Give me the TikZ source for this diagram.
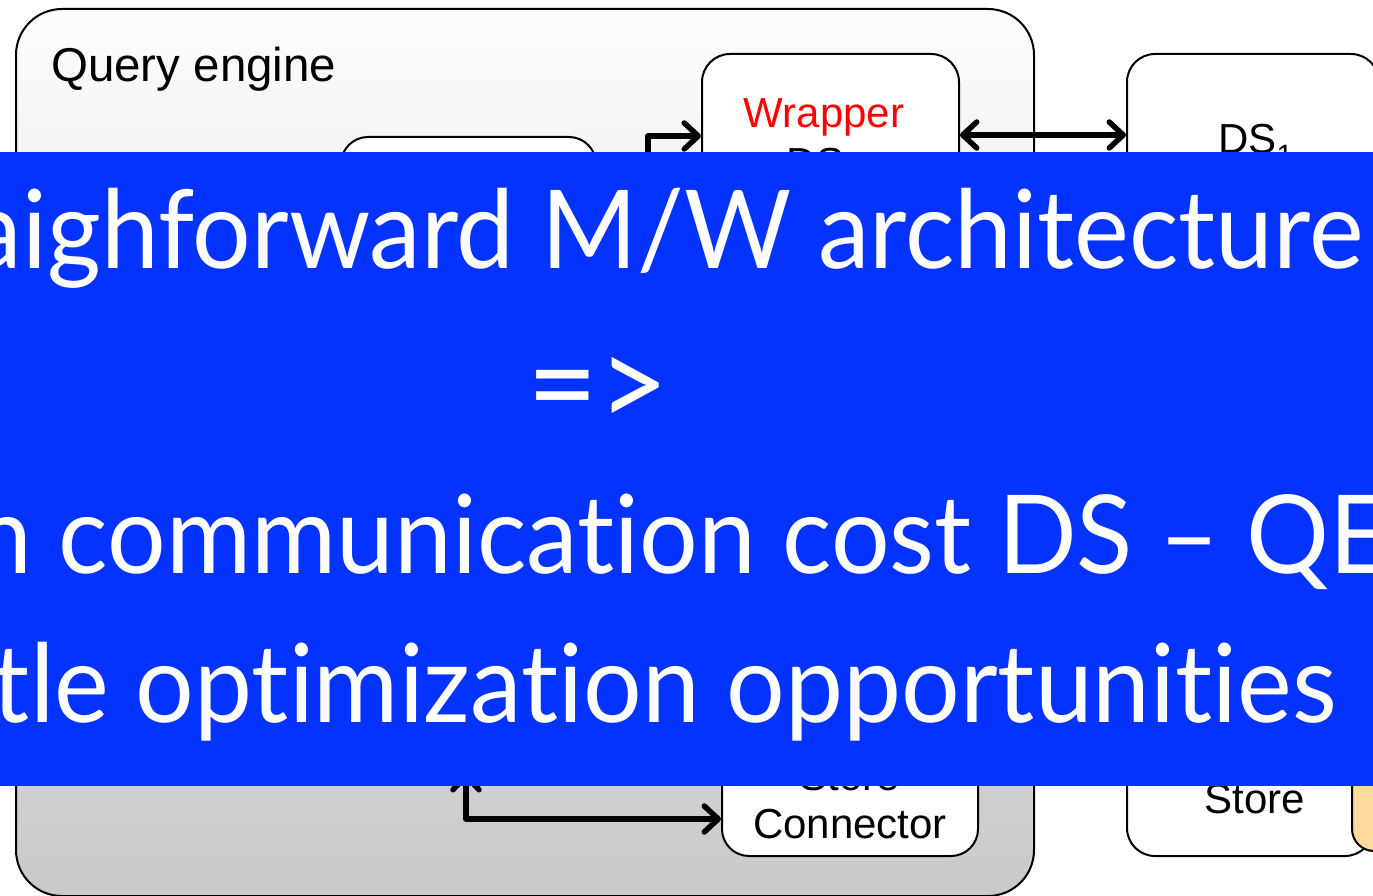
\documentclass[tikz,border=0pt]{standalone}
\usepackage{fontspec}
\setmainfont{Liberation Sans}
\newfontfamily\bannerfont[Ligatures=NoCommon,FakeStretch=0.95]{Lato}
\usetikzlibrary{arrows.meta,calc}
\definecolor{bannerblue}{RGB}{4,51,255}
\definecolor{dbfill}{RGB}{255,218,158}
\definecolor{wrapred}{RGB}{255,0,0}

\begin{document}
\begin{tikzpicture}[x=1pt,y=-1pt,
  box/.style={draw=black, line width=2pt, fill=white, inner sep=0pt, anchor=north west},
  lbl/.style={font=\fontsize{42}{48}\selectfont, inner sep=0pt, anchor=base},
  barb/.tip={Straight Barb[length=14pt,width=26pt,round,line width=5.5pt]},
  link/.style={line width=5.5pt, line join=round, -barb},
  biglink/.style={line width=5.5pt, line join=round, barb-barb},
  bannertext/.style={font=\bannerfont\fontsize{109}{120}\selectfont, text=white, inner sep=0pt, anchor=base}
]
\useasboundingbox (0,0) rectangle (1373,896);
\clip (0,0) rectangle (1373,896);

% query engine container
\node[draw=black, line width=2pt, rounded corners=46pt, inner sep=0pt,
      minimum width=1018pt, minimum height=887pt, anchor=north west,
      top color=black!1, bottom color=black!21] (qe) at (15,8) {};
\node[font=\fontsize{47.5}{54}\selectfont, inner sep=0pt, anchor=base west] (qetitle) at (51,82) {Query engine};

% components
\node[box, rounded corners=27pt, minimum width=255pt, minimum height=300pt] (lbox) at (340,136) {};
\node[box, rounded corners=28pt, minimum width=257pt, minimum height=300pt] (wrap) at (701,53) {};
\node[box, rounded corners=28pt, minimum width=252pt, minimum height=300pt] (ds1) at (1126,53) {};
\node[box, rounded corners=27pt, minimum width=256pt, minimum height=300pt] (conn) at (721,555) {};
\node[box, rounded corners=28pt, minimum width=246pt, minimum height=300pt] (store) at (1126,555) {};
\node[box, fill=dbfill, rounded corners=22pt, minimum width=80pt, minimum height=250pt] (db) at (1351,600) {};

% labels
\node[lbl, text=wrapred] (wraptxt) at (824,128) {Wrapper};
\node[lbl] (wrapds) at (824,178) {DS\textsubscript{1}};
\node[lbl, anchor=base west] (dstxt) at (1218,154) {DS\textsubscript{1}};
\node[lbl] (conntop) at (850,790) {Store};
\node[lbl] (conntxt) at (850,838) {Connector};
\node[lbl] (storetxt) at (1255,813) {Store};

% connectors
\coordinate (src) at (648,300);
\draw[link] (src) |- ($(wrap.north west)+(0,83)$);
\draw[biglink] ($(wrap.north east)+(0,82)$) -- ($(ds1.north west)+(0,82)$);
\coordinate (up) at (466,773);
\draw[biglink] (up) |- ($(conn.south west)+(0,-38)$);

% banner
\fill[bannerblue] (0,152) rectangle (1373,786);
\node[bannertext] (l1) at (603,268) {Straighforward M/W architecture};
\node[bannertext, font=\bannerfont\fontsize{128}{130}\selectfont] (l2) at (598,428) {=>};
\node[bannertext] (l3) at (603,573) {High communication cost DS – QE};
\node[bannertext] (l4) at (607,722) {Little optimization opportunities};
\end{tikzpicture}
\end{document}
